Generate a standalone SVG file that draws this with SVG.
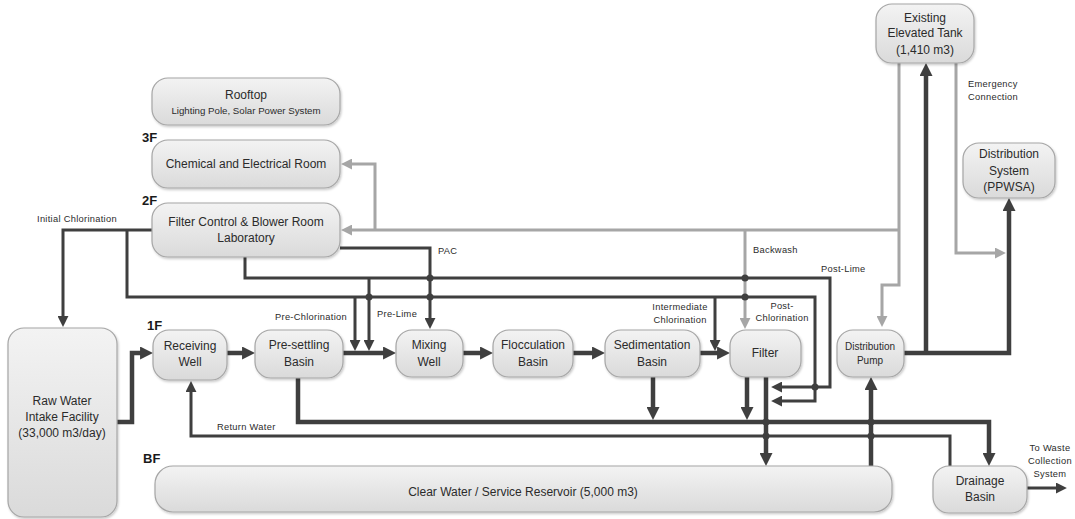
<svg xmlns="http://www.w3.org/2000/svg" width="1075" height="519" viewBox="0 0 1075 519">
<style>
.box{fill:url(#g);stroke:#a6a6a6;stroke-width:1.2;filter:url(#sh)}
.t{font-family:"Liberation Sans",Arial,sans-serif;font-size:12px;fill:#2b2b2b;text-anchor:middle}
.ts{font-family:"Liberation Sans",Arial,sans-serif;font-size:10px;fill:#2b2b2b;text-anchor:middle}
.lb{font-family:"Liberation Sans",Arial,sans-serif;font-size:9.3px;letter-spacing:0.3px;fill:#2b2b2b}
.fl{font-family:"Liberation Sans",Arial,sans-serif;font-size:13px;font-weight:bold;fill:#1a1a1a}
.d{fill:none;stroke:#3f3f3f;stroke-width:3;stroke-linejoin:miter}
.dk{fill:none;stroke:#3f3f3f;stroke-width:4.5;stroke-linejoin:miter}
.gr{fill:none;stroke:#a6a6a6;stroke-width:3}
.hop{fill:#3f3f3f}
</style>
<defs>
<linearGradient id="g" x1="0" y1="0" x2="0" y2="1"><stop offset="0" stop-color="#f3f3f3"/><stop offset="1" stop-color="#dadada"/></linearGradient>
<filter id="sh" x="-10%" y="-10%" width="120%" height="130%"><feDropShadow dx="1" dy="1.5" stdDeviation="1" flood-color="#000" flood-opacity="0.22"/></filter>
<marker id="ad" viewBox="0 0 10 10" refX="1" refY="5" markerWidth="11" markerHeight="11" markerUnits="userSpaceOnUse" orient="auto"><path d="M0,0 L10,5 L0,10 z" fill="#3f3f3f"/></marker>
<marker id="adk" viewBox="0 0 10 10" refX="1.5" refY="5" markerWidth="13" markerHeight="13" markerUnits="userSpaceOnUse" orient="auto"><path d="M0,0 L10,5 L0,10 z" fill="#3f3f3f"/></marker>
<marker id="ag" viewBox="0 0 10 10" refX="1" refY="5" markerWidth="11" markerHeight="11" markerUnits="userSpaceOnUse" orient="auto"><path d="M0,0 L10,5 L0,10 z" fill="#a6a6a6"/></marker>
</defs>
<rect width="1075" height="519" fill="#ffffff"/>

<g id="connectors">
<!-- gray lines -->
<path class="gr" d="M899,63 V285 H882 V317" marker-end="url(#ag)"/>
<path class="gr" d="M899,230 H351" marker-end="url(#ag)"/>
<path class="gr" d="M375,230 V164 H351" marker-end="url(#ag)"/>
<path class="gr" d="M745,230 V319" marker-end="url(#ag)"/>
<path class="gr" d="M956,63 V253 H996" marker-end="url(#ag)"/>
<!-- chlorine -->
<path class="d" d="M152,230 H63 V317" marker-end="url(#ad)"/>
<path class="d" d="M127,230 V297 H815 V401 H781" marker-end="url(#ad)"/>
<path class="d" d="M355,297 V341" marker-end="url(#ad)"/>
<path class="d" d="M715,297 V341" marker-end="url(#ad)"/>
<!-- lime -->
<path class="d" d="M245,257 V278 H830 V387 H781" marker-end="url(#ad)"/>
<path class="d" d="M369,278 V341" marker-end="url(#ad)"/>
<!-- PAC -->
<path class="d" d="M340,248 H430 V319" marker-end="url(#ad)"/>
<!-- main flow -->
<path class="dk" d="M117,422 H132 V353 H142" marker-end="url(#adk)"/>
<path class="dk" d="M227,353 H244" marker-end="url(#adk)"/>
<path class="dk" d="M343,353 H385" marker-end="url(#adk)"/>
<path class="dk" d="M463,353 H482" marker-end="url(#adk)"/>
<path class="dk" d="M573,353 H594" marker-end="url(#adk)"/>
<path class="dk" d="M700,353 H719" marker-end="url(#adk)"/>
<!-- sludge / drainage -->
<path class="dk" d="M298,378 V422 H989 V455" marker-end="url(#adk)"/>
<path class="dk" d="M653,377 V409" marker-end="url(#adk)"/>
<path class="dk" d="M747,377 V409" marker-end="url(#adk)"/>
<path class="dk" d="M766,377 V455" marker-end="url(#adk)"/>
<path class="d" d="M950,466 V436 H191 V391" marker-end="url(#ad)"/>
<path class="dk" d="M871,466 V388" marker-end="url(#adk)"/>
<path class="d" d="M1027,488 H1057" marker-end="url(#ad)"/>
<!-- distribution -->
<path class="dk" d="M904,353 H1009 V209" marker-end="url(#adk)"/>
<path class="dk" d="M926,353 V74" marker-end="url(#adk)"/>
<!-- line hops -->
<circle class="hop" cx="430" cy="278" r="3.5"/>
<circle class="hop" cx="369" cy="297" r="3.5"/>
<circle class="hop" cx="430" cy="297" r="3.5"/>
<circle class="hop" cx="745" cy="278" r="3.5"/>
<circle class="hop" cx="745" cy="297" r="3.5"/>
<circle class="hop" cx="815" cy="387" r="3.5"/>
<circle class="hop" cx="766" cy="422" r="3.5"/>
<circle class="hop" cx="766" cy="436" r="3.5"/>
<circle class="hop" cx="871" cy="422" r="3.5"/>
<circle class="hop" cx="871" cy="436" r="3.5"/>
<!-- connector labels -->
<text class="lb" x="37" y="222">Initial Chlorination</text>
<text class="lb" x="438" y="254">PAC</text>
<text class="lb" x="275" y="320">Pre-Chlorination</text>
<text class="lb" x="377" y="317">Pre-Lime</text>
<text class="lb" x="217" y="430">Return Water</text>
<text class="lb" x="753" y="253">Backwash</text>
<text class="lb" x="821" y="272">Post-Lime</text>
<text class="lb" x="680" y="310" text-anchor="middle">Intermediate</text>
<text class="lb" x="680" y="323" text-anchor="middle">Chlorination</text>
<text class="lb" x="782" y="309" text-anchor="middle">Post-</text>
<text class="lb" x="782" y="321" text-anchor="middle">Chlorination</text>
<text class="lb" x="968" y="87">Emergency</text>
<text class="lb" x="968" y="100">Connection</text>
<text class="lb" x="1050" y="451" text-anchor="middle">To Waste</text>
<text class="lb" x="1050" y="464" text-anchor="middle">Collection</text>
<text class="lb" x="1050" y="477" text-anchor="middle">System</text>
</g>

<g id="floors">
<text class="fl" x="142" y="142">3F</text>
<text class="fl" x="142" y="205">2F</text>
<text class="fl" x="147" y="330">1F</text>
<text class="fl" x="143" y="463">BF</text>
</g>

<g id="rooftop"><rect class="box" x="152" y="78" width="188" height="47" rx="16"/>
<text class="t" x="246" y="99">Rooftop</text>
<text class="t" x="246" y="114" style="font-size:9.7px">Lighting Pole, Solar Power System</text></g>

<g id="chem-room"><rect class="box" x="152" y="140" width="188" height="48" rx="16"/>
<text class="t" x="246" y="168">Chemical and Electrical Room</text></g>

<g id="filter-control"><rect class="box" x="152" y="203" width="188" height="54" rx="16"/>
<text class="t" x="246" y="226">Filter Control &amp; Blower Room</text>
<text class="t" x="246" y="242">Laboratory</text></g>

<g id="raw-water"><rect class="box" x="8" y="328" width="109" height="189" rx="16"/>
<text class="t" x="62" y="405">Raw Water</text>
<text class="t" x="62" y="421">Intake Facility</text>
<text class="t" x="62" y="437">(33,000 m3/day)</text></g>

<g id="receiving-well"><rect class="box" x="153" y="330" width="74" height="50" rx="16"/>
<text class="t" x="190" y="350">Receiving</text>
<text class="t" x="190" y="366">Well</text></g>

<g id="pre-settling"><rect class="box" x="255" y="330" width="88" height="48" rx="16"/>
<text class="t" x="299" y="349">Pre-settling</text>
<text class="t" x="299" y="366">Basin</text></g>

<g id="mixing-well"><rect class="box" x="396" y="330" width="67" height="47" rx="16"/>
<text class="t" x="429" y="349">Mixing</text>
<text class="t" x="429" y="366">Well</text></g>

<g id="flocculation"><rect class="box" x="493" y="330" width="80" height="47" rx="16"/>
<text class="t" x="533" y="349">Flocculation</text>
<text class="t" x="533" y="366">Basin</text></g>

<g id="sedimentation"><rect class="box" x="605" y="330" width="95" height="47" rx="16"/>
<text class="t" x="652" y="349">Sedimentation</text>
<text class="t" x="652" y="366">Basin</text></g>

<g id="filter"><rect class="box" x="730" y="330" width="71" height="47" rx="16"/>
<text class="t" x="765" y="357">Filter</text></g>

<g id="distribution-pump"><rect class="box" x="837" y="330" width="67" height="47" rx="16"/>
<text class="ts" x="870" y="350">Distribution</text>
<text class="ts" x="870" y="364">Pump</text></g>

<g id="elevated-tank"><rect class="box" x="876" y="4" width="98" height="59" rx="16"/>
<text class="t" x="925" y="22">Existing</text>
<text class="t" x="925" y="37">Elevated Tank</text>
<text class="t" x="925" y="54">(1,410 m3)</text></g>

<g id="distribution-system"><rect class="box" x="963" y="143" width="92" height="55" rx="16"/>
<text class="t" x="1009" y="158">Distribution</text>
<text class="t" x="1009" y="175">System</text>
<text class="t" x="1009" y="191">(PPWSA)</text></g>

<g id="clear-water"><rect class="box" x="155" y="466" width="737" height="46" rx="18"/>
<text class="t" x="523" y="496">Clear Water / Service Reservoir (5,000 m3)</text></g>

<g id="drainage-basin"><rect class="box" x="933" y="466" width="94" height="47" rx="16"/>
<text class="t" x="980" y="485">Drainage</text>
<text class="t" x="980" y="501">Basin</text></g>
</svg>
